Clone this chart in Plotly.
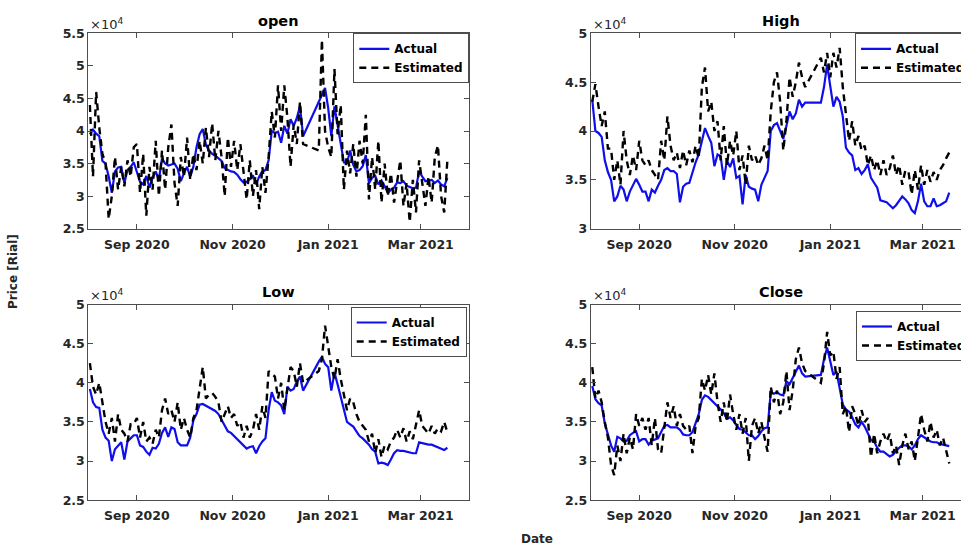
import pandas as pd
import plotly.graph_objects as go

# ---------------- data (prices in units of 10^4 Rial) ----------------
base_date = pd.Timestamp("2020-08-01")
day_offsets = [
    1, 3, 5, 7, 9, 11, 13, 15, 17, 19,
    21, 23, 25, 27, 29, 31, 33, 35, 37, 39,
    41, 43, 45, 47, 49, 51, 53, 55, 57, 59,
    61, 63, 65, 67, 69, 71, 73, 75, 77, 79,
    81, 83, 85, 87, 89, 91, 93, 95, 97, 99,
    101, 103, 105, 107, 109, 111, 113, 115, 117, 119,
    121, 123, 125, 127, 129, 131, 133, 135, 137,
    147, 149, 151, 153, 155, 157, 159, 161, 163, 165,
    167, 169, 171, 173, 175, 177, 179, 181, 183, 185,
    187, 189, 191, 193, 195, 197, 199, 201, 203, 205,
    207, 209, 211, 213, 215, 217, 219, 221, 223, 225,
    227, 229,
]
dates = base_date + pd.to_timedelta(day_offsets, unit="D")

open_actual = [
    3.95, 4.02, 3.96, 3.92, 3.54, 3.50, 3.30, 3.05, 3.38, 3.44,
    3.45, 3.20, 3.40, 3.45, 3.52, 3.35, 3.22, 3.18, 3.31, 3.13,
    3.28, 3.38, 3.25, 3.58, 3.50, 3.47, 3.48, 3.50, 3.42, 3.23,
    3.35, 3.45, 3.30, 3.45, 3.75, 3.95, 4.03, 3.79, 3.70, 3.65,
    3.62, 3.58, 3.54, 3.43, 3.40, 3.38, 3.37, 3.33, 3.26, 3.21,
    3.22, 3.26, 3.32, 3.18, 3.30, 3.38, 3.40, 3.55, 4.00, 3.97,
    3.99, 3.82, 4.08, 3.96, 4.18, 4.08, 4.20, 4.38, 3.92,
    4.45, 4.56, 4.66, 4.35, 3.92, 4.38, 4.10, 3.80, 3.52, 3.51,
    3.70, 3.48, 3.38, 3.40, 3.46, 3.63, 3.20, 3.28, 3.31, 3.18,
    3.24, 3.15, 3.05, 3.10, 3.13, 3.21, 3.20, 3.23, 3.16, 3.14,
    3.12, 3.13, 3.38, 3.30, 3.23, 3.24, 3.25, 3.20, 3.24, 3.18,
    3.15, 3.28,
]
open_estimated = [
    4.40, 3.30, 4.60, 4.05, 3.65, 3.50, 2.65, 3.00, 3.60, 3.10,
    3.45, 3.15, 3.55, 3.30, 3.75, 3.80, 3.05, 3.65, 2.70, 3.45,
    3.10, 3.85, 3.00, 3.70, 3.10, 3.75, 4.10, 3.20, 2.85, 3.60,
    3.30, 3.90, 3.25, 3.65, 3.40, 3.85, 3.50, 4.05, 3.60, 4.12,
    3.55, 4.00, 3.60, 3.00, 3.90, 3.45, 3.85, 3.40, 3.80, 3.35,
    2.95, 3.55, 3.00, 3.40, 2.80, 3.45, 3.05, 3.60, 4.30, 3.90,
    4.70, 4.00, 4.70, 4.20, 3.45, 4.10, 3.80, 4.45, 3.80,
    3.70, 5.40, 4.00, 3.75, 3.60, 4.95, 3.95, 4.40, 3.10, 3.70,
    3.35, 3.80, 3.30, 3.85, 3.50, 4.25, 2.95, 3.60, 3.10, 3.85,
    2.90, 3.50, 3.00, 3.35, 2.90, 3.25, 3.55, 2.85, 3.20, 2.60,
    3.25, 2.75, 3.55, 3.20, 2.85, 3.30, 2.90, 3.60, 3.78, 3.00,
    2.75, 3.55,
]

high_actual = [
    4.32, 4.00, 3.98, 3.94, 3.70, 3.58, 3.50, 3.28, 3.33, 3.44,
    3.40, 3.28, 3.38, 3.45, 3.51, 3.45, 3.38, 3.38, 3.28, 3.40,
    3.37, 3.44, 3.50, 3.60, 3.62, 3.59, 3.59, 3.56, 3.27, 3.43,
    3.46, 3.47, 3.58, 3.68, 3.76, 3.90, 4.03, 3.95, 3.88, 3.64,
    3.76, 3.74, 3.50, 3.70, 3.63, 3.72, 3.52, 3.54, 3.25, 3.55,
    3.43, 3.41, 3.40, 3.28, 3.45, 3.52, 3.59, 4.00, 4.06, 4.08,
    4.00, 3.92, 4.05, 4.20, 4.12, 4.18, 4.32, 4.25, 4.29,
    4.29, 4.45, 4.68, 4.46, 4.25, 4.35, 4.30, 4.15, 3.83, 3.78,
    3.75, 3.60, 3.62, 3.56, 3.60, 3.66, 3.52, 3.47, 3.42, 3.29,
    3.28, 3.27, 3.24, 3.21, 3.24, 3.28, 3.33, 3.30, 3.26, 3.19,
    3.16, 3.28, 3.46, 3.28, 3.23, 3.23, 3.31, 3.23, 3.24, 3.26,
    3.28, 3.37,
]
high_estimated = [
    4.30, 4.48, 4.25, 4.05, 4.20, 3.82, 3.82, 3.50, 3.70, 3.45,
    4.00, 3.70, 3.55, 3.75, 3.60, 3.90, 3.70, 3.65, 3.70, 3.60,
    3.55, 3.50, 3.90, 3.70, 4.15, 3.85, 3.70, 3.78, 3.62, 3.80,
    3.65, 3.80, 3.68, 3.85, 3.72, 4.45, 4.65, 4.20, 4.30, 4.00,
    4.10, 3.70, 4.05, 3.65, 3.90, 3.75, 4.00, 3.60, 3.75, 3.45,
    3.85, 3.70, 3.75, 3.65, 3.72, 3.85, 3.70, 4.20, 4.50, 4.60,
    4.30, 3.80, 4.10, 4.55, 4.35, 4.50, 4.70, 4.55, 4.45,
    4.75, 4.60, 4.80, 4.55, 4.80, 4.65, 4.85, 4.45, 4.20, 3.90,
    4.10, 3.85, 3.95, 3.80, 3.85, 3.65, 3.75, 3.60, 3.70, 3.55,
    3.70, 3.55, 3.62, 3.75, 3.55, 3.65, 3.45, 3.60, 3.58, 3.35,
    3.60, 3.40, 3.65, 3.45, 3.60, 3.48, 3.58, 3.50, 3.60, 3.65,
    3.72, 3.78,
]

low_actual = [
    3.92, 3.75, 3.69, 3.68, 3.40, 3.30, 3.26, 3.00, 3.15, 3.19,
    3.24, 3.02, 3.25, 3.29, 3.33, 3.33, 3.20, 3.18, 3.12, 3.08,
    3.17, 3.16, 3.22, 3.36, 3.43, 3.31, 3.43, 3.41, 3.24, 3.20,
    3.20, 3.20, 3.30, 3.52, 3.60, 3.72, 3.73, 3.71, 3.69, 3.67,
    3.64, 3.60, 3.53, 3.45, 3.38, 3.36, 3.32, 3.29, 3.25, 3.20,
    3.16, 3.18, 3.19, 3.10, 3.19, 3.25, 3.29, 3.65, 3.88, 3.77,
    3.75, 3.71, 3.60, 3.95, 3.90, 3.92, 4.02, 4.08, 3.90,
    4.27, 4.33, 4.24, 4.20, 3.90, 4.13, 3.98, 3.82, 3.68, 3.50,
    3.47, 3.44, 3.38, 3.32, 3.29, 3.25, 3.21, 3.15, 3.12, 2.97,
    2.98, 2.97, 2.95, 3.02, 3.10, 3.14, 3.13, 3.13, 3.12, 3.11,
    3.10, 3.10, 3.24, 3.23, 3.22, 3.21, 3.21, 3.19, 3.17, 3.16,
    3.14, 3.17,
]
low_estimated = [
    4.25, 3.95, 3.85, 4.00, 3.75, 3.50, 3.35, 3.55, 3.25, 3.60,
    3.40, 3.35, 3.25, 3.47, 3.47, 3.55, 3.30, 3.50, 3.25, 3.30,
    3.22, 3.40, 3.30, 3.65, 3.80, 3.60, 3.65, 3.50, 3.75, 3.40,
    3.55, 3.40, 3.30, 3.55, 3.65, 3.95, 4.20, 3.80, 3.85, 3.87,
    3.82, 3.75, 3.50, 3.60, 3.70, 3.55, 3.60, 3.45, 3.50, 3.30,
    3.45, 3.30, 3.40, 3.60, 3.40, 3.70, 3.55, 4.15, 4.12, 4.08,
    3.80, 4.00, 3.65, 3.95, 4.20, 4.15, 3.95, 4.25, 4.00,
    4.15, 4.30, 4.73, 4.45, 4.20, 4.05, 4.30, 4.05, 3.85, 3.65,
    3.80, 3.75, 3.60, 3.50, 3.45, 3.40, 3.25, 3.35, 3.10, 3.28,
    3.05, 3.20, 3.15, 3.25, 3.30, 3.40, 3.30, 3.42, 3.25, 3.38,
    3.28, 3.45, 3.65, 3.45, 3.40, 3.35, 3.45, 3.35, 3.42, 3.38,
    3.50, 3.37,
]

close_actual = [
    3.96, 3.79, 3.74, 3.71, 3.48, 3.35, 3.20, 3.12, 3.31, 3.29,
    3.25, 3.26, 3.33, 3.36, 3.38, 3.25, 3.28, 3.28, 3.21, 3.26,
    3.27, 3.29, 3.37, 3.45, 3.46, 3.43, 3.43, 3.43, 3.40, 3.34,
    3.33, 3.33, 3.37, 3.48, 3.60, 3.78, 3.84, 3.82, 3.78, 3.75,
    3.71, 3.66, 3.61, 3.54, 3.56, 3.52, 3.46, 3.41, 3.40, 3.37,
    3.33, 3.33, 3.28, 3.32, 3.38, 3.42, 3.43, 3.88, 3.86, 3.88,
    3.85, 3.84, 4.02, 3.98, 4.06, 4.12, 4.22, 4.12, 4.08,
    4.10, 4.30, 4.45, 4.28, 4.10, 4.14, 3.94, 3.72, 3.66, 3.63,
    3.56, 3.47, 3.43, 3.50, 3.44, 3.35, 3.27, 3.25, 3.17, 3.12,
    3.12, 3.09, 3.06, 3.08, 3.13, 3.17, 3.20, 3.20, 3.19, 3.15,
    3.20, 3.28, 3.33, 3.30, 3.28, 3.25, 3.24, 3.24, 3.22, 3.21,
    3.20, 3.19,
]
close_estimated = [
    4.20, 3.80, 3.90, 3.75, 3.50, 3.30, 2.95, 2.82, 3.20, 3.00,
    3.35, 3.10, 3.30, 3.15, 3.60, 3.45, 3.55, 3.40, 3.55, 3.20,
    3.55, 3.15, 3.10, 3.40, 3.75, 3.55, 3.70, 3.45, 3.60, 3.45,
    3.40, 3.45, 3.10, 3.45, 3.55, 4.05, 3.90, 4.10, 3.85, 4.12,
    3.75, 3.50, 3.75, 3.50, 3.85, 3.60, 3.40, 3.60, 3.35, 3.55,
    3.00, 3.45, 3.55, 3.35, 3.50, 3.30, 3.12, 3.95, 3.75, 3.90,
    3.60, 3.75, 4.15, 3.65, 3.90, 4.30, 4.45, 4.25, 4.15,
    4.00, 4.25, 4.65, 4.35, 4.40, 4.05, 4.20, 3.60, 3.70, 3.37,
    3.70, 3.60, 3.45, 3.65, 3.50, 3.55, 3.05, 3.35, 3.10, 3.25,
    3.35, 3.25, 3.35, 3.10, 3.20, 2.95, 3.20, 3.35, 3.15, 3.25,
    3.00, 3.30, 3.60, 3.40, 3.25, 3.50, 3.30, 3.40, 3.20, 3.30,
    3.15, 2.97,
]

x_tick_dates = ["2020-09-01", "2020-11-01", "2021-01-01", "2021-03-01"]
x_tick_labels = ["Sep 2020", "Nov 2020", "Jan 2021", "Mar 2021"]
y_ticks_open = [2.5, 3, 3.5, 4, 4.5, 5, 5.5]
y_ticks_high = [3, 3.5, 4, 4.5, 5]
y_ticks_lowclose = [2.5, 3, 3.5, 4, 4.5, 5]

# ---------------- layout geometry ----------------
W, H = 961, 547


def fx(p):
    return p / W


def fy(p):
    return 1 - p / H


LEFT = (88.3, 469.3)
RIGHT = (590.7, 961.0)
TOP = (33.3, 228.7)
BOT = (304.5, 500.2)

FONT = "DejaVu Sans"
AXC = "#4d4d4d"
TXT = "#262626"

panels = [
    dict(title="open", act=open_actual, est=open_estimated, col=LEFT, row=TOP,
         yr=[2.5, 5.5], yt=y_ticks_open, xr=["2020-08-01", "2021-04-01"], right=False,
         leg=dict(x=fx(469.3), xanchor="right", y=fy(33.3)), tx=278.8),
    dict(title="High", act=high_actual, est=high_estimated, col=RIGHT, row=TOP,
         yr=[3, 5], yt=y_ticks_high, xr=["2020-08-01", "2021-03-25 12:00"], right=True,
         leg=dict(x=fx(855), xanchor="left", y=fy(33.3)), tx=781.0),
    dict(title="Low", act=low_actual, est=low_estimated, col=LEFT, row=BOT,
         yr=[2.5, 5], yt=y_ticks_lowclose, xr=["2020-08-01", "2021-04-01"], right=False,
         leg=dict(x=fx(466.7), xanchor="right", y=fy(307)), tx=278.8),
    dict(title="Close", act=close_actual, est=close_estimated, col=RIGHT, row=BOT,
         yr=[2.5, 5], yt=y_ticks_lowclose, xr=["2020-08-01", "2021-03-25 12:00"], right=True,
         leg=dict(x=fx(856), xanchor="left", y=fy(311)), tx=781.0),
]

fig = go.Figure()
layout = dict(
    width=W, height=H, autosize=False,
    margin=dict(l=0, r=0, t=0, b=0, pad=0, autoexpand=False),
    paper_bgcolor="white", plot_bgcolor="white",
    font=dict(family=FONT, size=12.5, color=TXT),
    showlegend=True,
)
annotations = []

for i, p in enumerate(panels, start=1):
    sfx = "" if i == 1 else str(i)
    xa, ya = "x" + sfx, "y" + sfx
    legname = "legend" + sfx
    fig.add_trace(go.Scatter(
        x=dates, y=p["act"], mode="lines", name="Actual",
        line=dict(color="rgb(15,15,235)", width=2.2),
        xaxis=xa, yaxis=ya, legend=legname))
    fig.add_trace(go.Scatter(
        x=dates, y=p["est"], mode="lines", name="Estimated",
        line=dict(color="black", width=2.4, dash="7px,5px"),
        xaxis=xa, yaxis=ya, legend=legname))

    layout["xaxis" + sfx] = dict(
        domain=[fx(p["col"][0]), fx(p["col"][1])], anchor=ya, type="date",
        range=p["xr"], tickvals=x_tick_dates, ticktext=x_tick_labels,
        showline=True, linecolor=AXC, linewidth=1, mirror="ticks",
        ticks="inside", ticklen=5, tickwidth=1, tickcolor=AXC,
        showgrid=False, zeroline=False, ticklabelstandoff=4,
        tickfont=dict(family=FONT, size=12.5, color=TXT, weight=700),
    )
    layout["yaxis" + sfx] = dict(
        domain=[fy(p["row"][1]), fy(p["row"][0])], anchor=xa,
        range=p["yr"], tickvals=p["yt"], ticktext=[("%g" % v) for v in p["yt"]],
        showline=True, linecolor=AXC, linewidth=1,
        mirror=(False if p["right"] else "ticks"),
        ticks="inside", ticklen=5, tickwidth=1, tickcolor=AXC,
        showgrid=False, zeroline=False,
        tickfont=dict(family=FONT, size=12.5, color=TXT, weight=700),
    )
    layout[legname] = dict(
        x=p["leg"]["x"], xanchor=p["leg"]["xanchor"], y=p["leg"]["y"], yanchor="top",
        xref="paper", yref="paper", bgcolor="white", bordercolor=AXC, borderwidth=1,
        font=dict(family=FONT, size=12, color="black", weight=700),
        tracegroupgap=0, itemwidth=30, traceorder="normal",
    )
    # subplot title
    annotations.append(dict(
        text=p["title"], xref="paper", yref="paper", x=fx(p["tx"]),
        y=fy(p["row"][0] - 2.2), xanchor="center", yanchor="bottom", showarrow=False,
        font=dict(family=FONT, size=14.5, color="black", weight=700)))
    # exponent label
    annotations.append(dict(
        text="×10<sup>4</sup>", xref="paper", yref="paper", x=fx(p["col"][0]),
        y=fy(p["row"][0] + 0.5), xanchor="left", yanchor="bottom", showarrow=False,
        font=dict(family=FONT, size=13, color=TXT)))

annotations.append(dict(
    text="Price [Rial]", xref="paper", yref="paper", x=fx(13), y=fy(272),
    xanchor="center", yanchor="middle", textangle=-90, showarrow=False,
    font=dict(family=FONT, size=12, color=TXT, weight=700)))
annotations.append(dict(
    text="Date", xref="paper", yref="paper", x=fx(537), y=fy(539),
    xanchor="center", yanchor="middle", showarrow=False,
    font=dict(family=FONT, size=12, color=TXT, weight=700)))

layout["annotations"] = annotations
fig.update_layout(**layout)

fig.write_html(
    "out.html",
    config={"displayModeBar": False},
    post_script="document.body.style.margin='0';document.body.style.overflow='hidden';",
)
